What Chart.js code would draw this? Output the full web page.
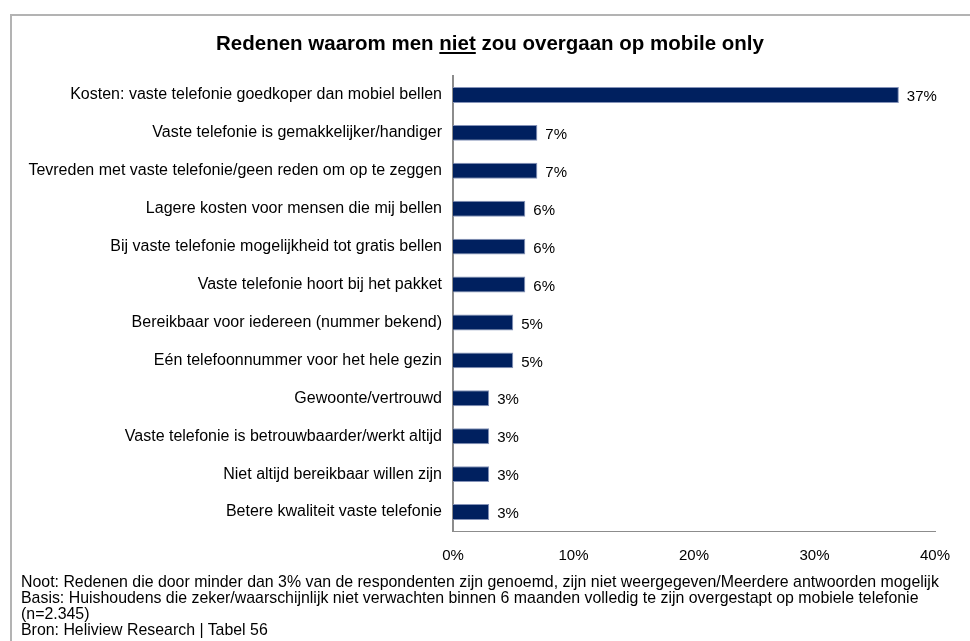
<!DOCTYPE html>
<html lang="nl">
<head>
<meta charset="utf-8">
<title>Redenen waarom men niet zou overgaan op mobile only</title>
<script src="https://cdn.jsdelivr.net/npm/chart.js@4.4.1/dist/chart.umd.min.js"></script>
<style>
  html, body { margin: 0; padding: 0; background: #fff; overflow: hidden; }
  body { width: 970px; height: 641px; position: relative; font-family: "Liberation Sans", Arial, sans-serif; color: #000; }
  .frame { position: absolute; left: 10px; top: 14px; width: 1000px; height: 700px; border: 2px solid #b3b3b3; box-sizing: border-box; }
  #chart { position: absolute; left: 0; top: 0; }
  h1 { position: absolute; left: 0; width: 980px; top: 31px; margin: 0; font-size: 20.5px; font-weight: bold; text-align: center; line-height: 24px; }
  .note { position: absolute; left: 21px; top: 574px; font-size: 15.9px; line-height: 16px; white-space: nowrap; }
</style>
</head>
<body>
<div class="frame"></div>
<canvas id="chart" width="970" height="641"></canvas>
<h1>Redenen waarom men <u>niet</u> zou overgaan op mobile only</h1>
<div class="note">
  Noot: Redenen die door minder dan 3% van de respondenten zijn genoemd, zijn niet weergegeven/Meerdere antwoorden mogelijk<br>
  Basis: Huishoudens die zeker/waarschijnlijk niet verwachten binnen 6 maanden volledig te zijn overgestapt op mobiele telefonie<br>
  (n=2.345)<br>
  Bron: Heliview Research | Tabel 56
</div>
<script>
  const reasons = [
    'Kosten: vaste telefonie goedkoper dan mobiel bellen',
    'Vaste telefonie is gemakkelijker/handiger',
    'Tevreden met vaste telefonie/geen reden om op te zeggen',
    'Lagere kosten voor mensen die mij bellen',
    'Bij vaste telefonie mogelijkheid tot gratis bellen',
    'Vaste telefonie hoort bij het pakket',
    'Bereikbaar voor iedereen (nummer bekend)',
    'Eén telefoonnummer voor het hele gezin',
    'Gewoonte/vertrouwd',
    'Vaste telefonie is betrouwbaarder/werkt altijd',
    'Niet altijd bereikbaar willen zijn',
    'Betere kwaliteit vaste telefonie'
  ];
  const shares = [37, 7, 7, 6, 6, 6, 5, 5, 3, 3, 3, 3];
  const xTicks = [0, 10, 20, 30, 40];

  const FONT = '"Liberation Sans", Arial, sans-serif';
  Chart.defaults.font.family = FONT;
  Chart.defaults.color = '#000';

  // percentage next to the end of each bar
  const valueLabels = {
    id: 'valueLabels',
    afterDatasetsDraw(chart) {
      const ctx = chart.ctx;
      const meta = chart.getDatasetMeta(0);
      ctx.save();
      ctx.font = '15px ' + FONT;
      ctx.fillStyle = '#000';
      ctx.textBaseline = 'middle';
      meta.data.forEach((bar, i) => {
        ctx.fillText(shares[i] + '%', bar.x + 8, bar.y + 2);
      });
      ctx.restore();
    }
  };

  new Chart(document.getElementById('chart'), {
    type: 'bar',
    data: {
      labels: reasons,
      datasets: [{
        data: shares,
        backgroundColor: '#00205f',
        borderColor: '#8593b8',
        borderWidth: 1,
        borderSkipped: 'start',
        barPercentage: 0.42,
        categoryPercentage: 1
      }]
    },
    options: {
      indexAxis: 'y',
      responsive: false,
      animation: false,
      layout: { padding: { top: 76, right: 35, left: 0, bottom: 0 } },
      plugins: { legend: { display: false }, tooltip: { enabled: false } },
      scales: {
        x: {
          min: 0, max: 40,
          grid: { display: false, drawTicks: false },
          border: { color: '#8c8c8c', width: 1 },
          afterBuildTicks: s => { s.ticks = xTicks.map(v => ({ value: v })); },
          afterFit: s => { s.height = 110; },
          ticks: { padding: 16, font: { size: 15 }, color: '#000', callback: v => v + '%' }
        },
        y: {
          grid: { display: false, drawTicks: false },
          border: { color: '#8c8c8c', width: 2 },
          afterFit: s => { s.width = 453; },
          ticks: { padding: 11, font: { size: 16 }, color: '#000', autoSkip: false }
        }
      }
    },
    plugins: [valueLabels]
  });
</script>
</body>
</html>
